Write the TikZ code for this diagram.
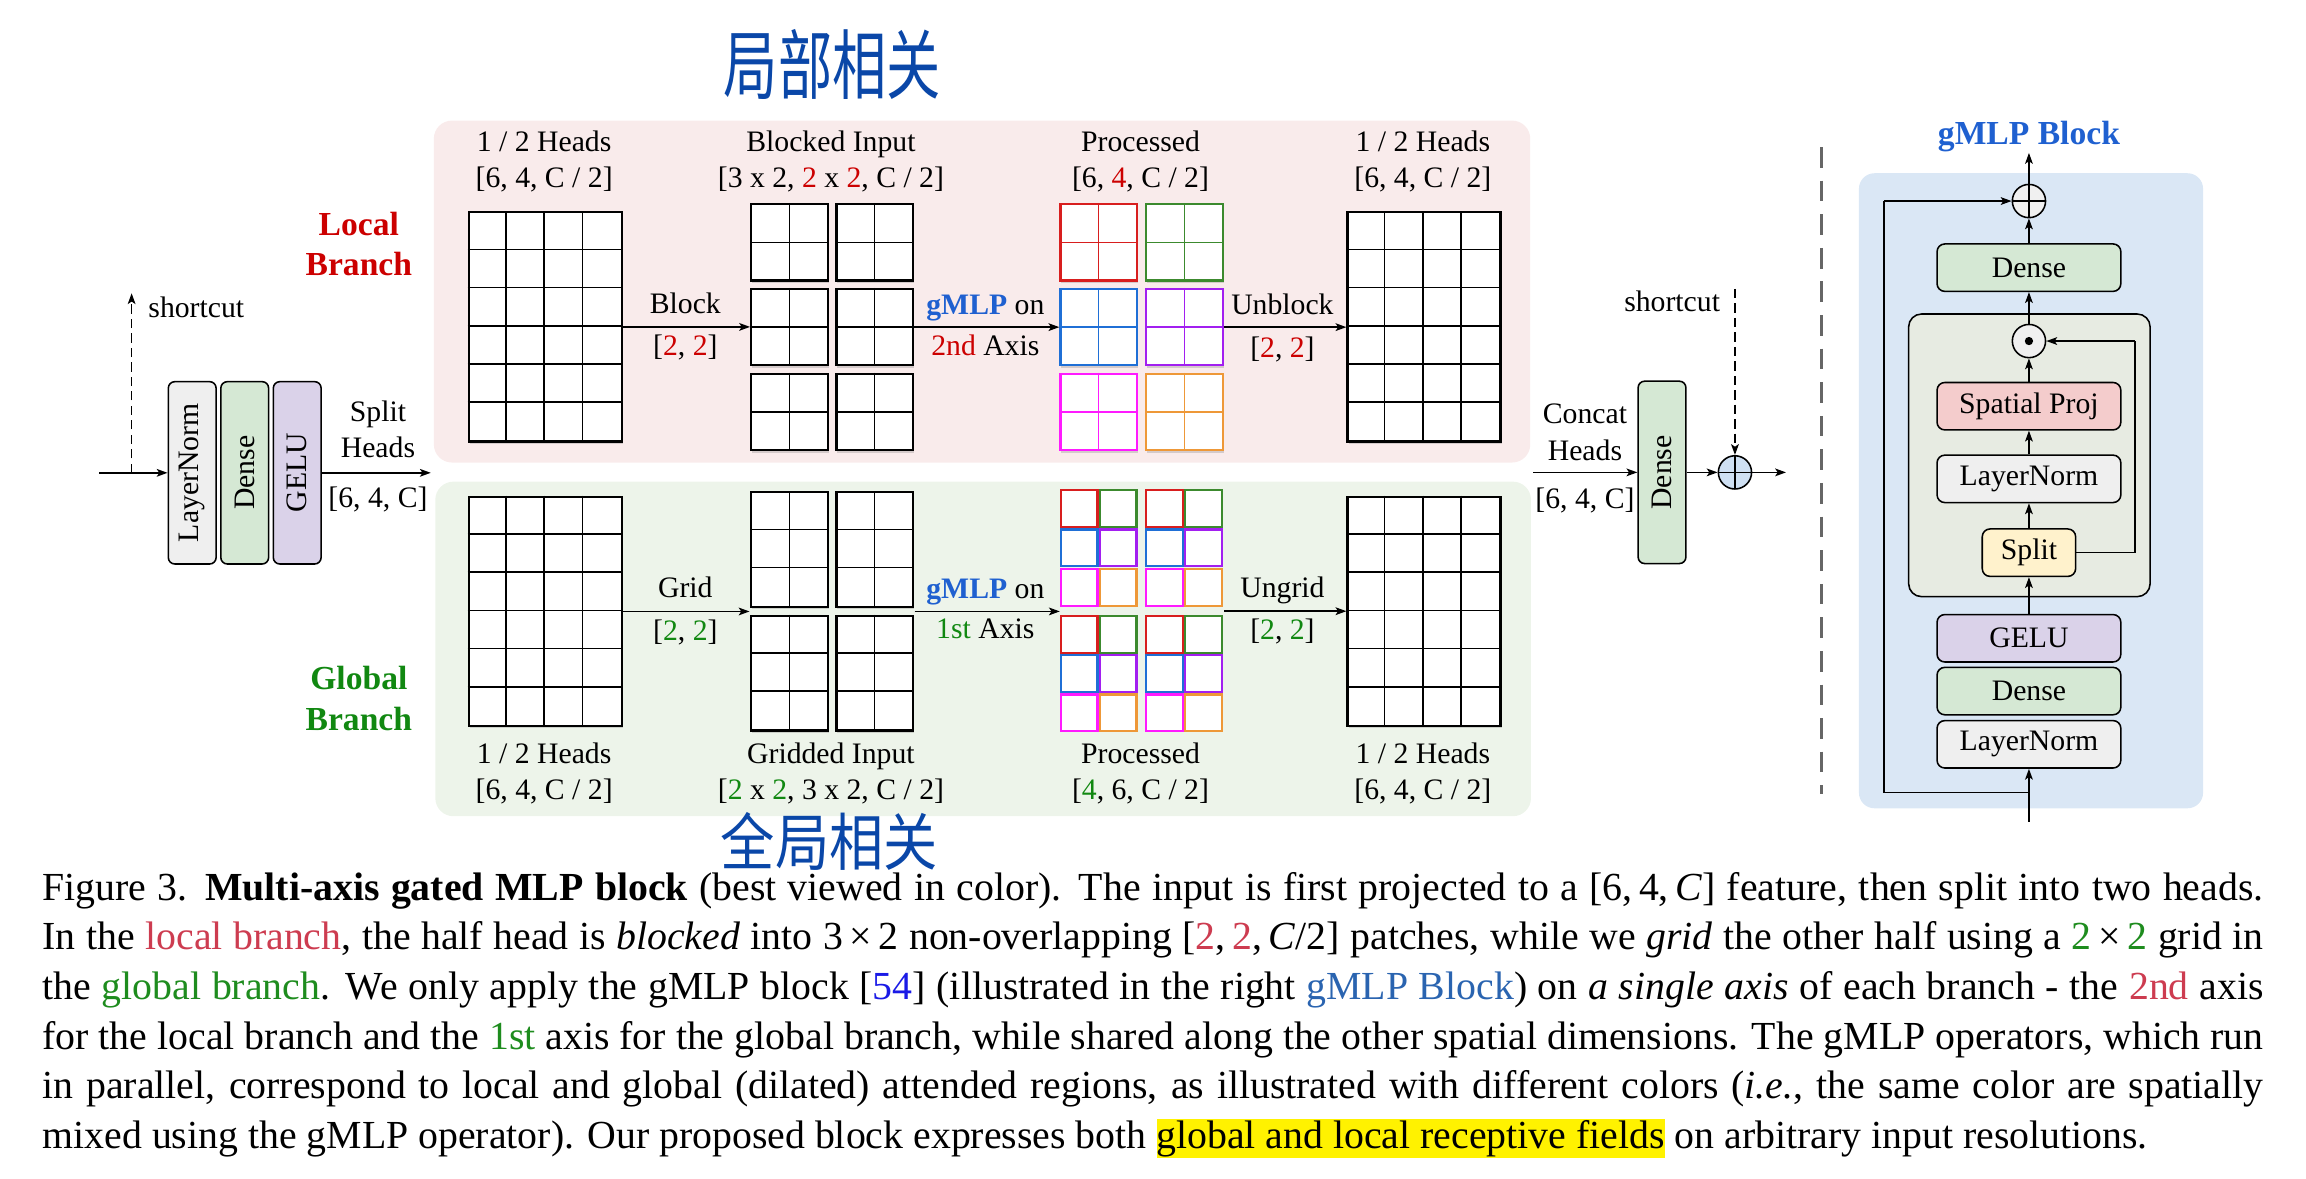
\documentclass[tikz,border=0pt]{standalone}
\usepackage{fontspec}
\setmainfont{Liberation Serif}
\newfontfamily\cjkfont{Noto Sans CJK SC}
\usetikzlibrary{arrows.meta,fit,shadows,calc}
\definecolor{pinkpanel}{HTML}{F9EBEB}
\definecolor{greenpanel}{HTML}{EDF4EA}
\definecolor{bluepanel}{HTML}{DAE7F5}
\definecolor{innerpanel}{HTML}{E7EBE2}
\definecolor{fdense}{HTML}{D5E8D4}
\definecolor{fln}{HTML}{EFEFEF}
\definecolor{fgelu}{HTML}{DAD2E9}
\definecolor{fsp}{HTML}{F4CCCC}
\definecolor{fsplit}{HTML}{FFF2CC}
\definecolor{fplus}{HTML}{CFE0F3}
\definecolor{fcirc}{HTML}{F0F0F0}
\definecolor{cR}{HTML}{D81E1E}
\definecolor{cG}{HTML}{3C8A2E}
\definecolor{cB}{HTML}{1F6FD6}
\definecolor{cP}{HTML}{A21FF0}
\definecolor{cM}{HTML}{FF1AFF}
\definecolor{cO}{HTML}{EE9838}
\definecolor{tRed}{HTML}{CC0000}
\definecolor{tGreen}{HTML}{118811}
\definecolor{tBlue}{HTML}{1F60D0}
\definecolor{hand}{HTML}{0A47A8}
\definecolor{capred}{HTML}{CD3C50}
\definecolor{capgreen}{HTML}{1E8C1E}
\definecolor{capblue}{HTML}{1A1AE6}
\definecolor{capblueb}{HTML}{2A64B0}
\definecolor{sepgray}{HTML}{666666}

\newcommand\bigGrid[3]{%
  \node[gridn, anchor=north west] (#1) at (#2,#3) {};
  \foreach \k in {1,2,3} \draw[cellln] ($(#1.north west)+(\k*26,0)$) -- ($(#1.south west)+(\k*26,0)$);
  \foreach \k in {1,...,5} \draw[cellln] ($(#1.north west)+(0,\k*26)$) -- ($(#1.north east)+(0,\k*26)$);
}
\newcommand\blkAA[4]{%
  \node[blka, draw=#4, anchor=north west] (#1) at (#2,#3) {};
  \draw[#4, cellln] (#1.north) -- (#1.south) (#1.west) -- (#1.east);
}
\newcommand\blkBB[3]{%
  \node[blkb, anchor=north west] (#1) at (#2,#3) {};
  \draw[cellln] (#1.north) -- (#1.south)
    ($(#1.north west)+(0,26)$) -- ($(#1.north east)+(0,26)$)
    ($(#1.north west)+(0,52)$) -- ($(#1.north east)+(0,52)$);
}
\newcommand\pcell[3]{\draw[#3, line width=0.85pt, fill=white] (#1+0.8,#2+0.8) rectangle ++(24.9,25.1);}

\begin{document}
\begin{tikzpicture}[x=0.02cm,y=-0.02cm,
  lbl/.style={font=\fontsize{11.5}{13}\selectfont, inner sep=0, anchor=base},
  ttl/.style={font=\fontsize{13}{15}\selectfont\bfseries, inner sep=0, anchor=base},
  captxt/.style={font=\fontsize{15.4}{17}\selectfont, inner sep=0, anchor=base west},
  arr/.style={-{Stealth[length=4.2pt,width=3pt,inset=1pt]}, line width=0.55pt},
  dsh/.style={dash pattern=on 3.6pt off 2pt},
  shd/.style={drop shadow={shadow xshift=0.4pt, shadow yshift=-0.9pt, opacity=0.3}},
  gridn/.style={draw, line width=0.9pt, fill=white, inner sep=0, minimum width=2.08cm, minimum height=3.12cm, shd},
  blka/.style={line width=0.85pt, fill=white, inner sep=0, minimum width=1.04cm, minimum height=1.04cm, shd},
  blkb/.style={draw, line width=0.85pt, fill=white, inner sep=0, minimum width=1.04cm, minimum height=1.56cm, shd},
  cellln/.style={line width=0.6pt},
  vbox/.style={draw, rounded corners=2.5pt, line width=0.6pt, inner sep=0, minimum width=2.48cm, minimum height=0.65cm, rotate=90, font=\fontsize{11.5}{13}\selectfont},
  hbox/.style={draw, rounded corners=3pt, line width=0.6pt, inner sep=0, minimum width=2.5cm, minimum height=0.645cm, font=\fontsize{11.5}{13}\selectfont},
  opl/.style={circle, draw, line width=0.6pt, inner sep=0, minimum size=0.452cm, path picture={\draw[black, line width=0.6pt] (path picture bounding box.north) -- (path picture bounding box.south) (path picture bounding box.west) -- (path picture bounding box.east);}},
  odt/.style={circle, draw, line width=0.6pt, inner sep=0, minimum size=0.452cm, fill=fcirc, path picture={\fill[black] (path picture bounding box.center) circle (1.6pt);}}
]
\useasboundingbox (0,0) rectangle (1568,801);

% ---------- panels ----------
\fill[pinkpanel, rounded corners=7pt] (295,82) rectangle (1040.5,314.5);
\fill[greenpanel, rounded corners=7pt] (296,327.5) rectangle (1041,555);
\fill[bluepanel, rounded corners=6pt] (1264,117.8) rectangle (1498,549.6);
\draw[fill=innerpanel, rounded corners=5pt, line width=0.6pt] (1297.8,213.5) rectangle (1462,405.7);

% ---------- handwriting ----------
\node[inner sep=0, text=hand] (hw1) at (566,44) {\scalebox{1}[1.4]{\cjkfont\fontsize{21}{21}\selectfont 局部相关}};
\node[inner sep=0, text=hand] (hw2) at (564,572) {\scalebox{1}[1.15]{\cjkfont\fontsize{21}{21}\selectfont 全局相关}};

% ---------- left module ----------
\node[vbox, fill=fln] (ln1) at (130.7,321.5) {LayerNorm};
\node[vbox, fill=fdense] (de1) at (166.4,321.5) {Dense};
\node[vbox, fill=fgelu] (ge1) at (202.1,321.5) {GELU};
\coordinate (in0) at (67.5,321.5);
\coordinate (scb) at (89.5,321.5);
\coordinate (sct) at (89.5,199.4);
\coordinate (spl) at (292.9,321.5);
\draw[arr] (in0) -- (ln1);
\draw[arr, dsh] (scb) -- (sct);
\draw[arr] (ge1) -- (spl);
\node[lbl] (tsc1) at (133.5,215.8) {shortcut};
\node[lbl] (tsp1) at (257,286.7) {Split};
\node[lbl] (tsp2) at (257,311) {Heads};
\node[lbl] (tsp3) at (257,345) {[6, 4, C]};

% ---------- branch titles ----------
\node[ttl, text=tRed] (lb1) at (244,159.8) {Local};
\node[ttl, text=tRed] (lb2) at (244,187) {Branch};
\node[ttl, text=tGreen] (gb1) at (244,469) {Global};
\node[ttl, text=tGreen] (gb2) at (244,496.8) {Branch};

% ---------- local branch ----------
\bigGrid{LG}{318}{143.5}
\blkAA{B11}{510}{138}{black}
\blkAA{B12}{568}{138}{black}
\blkAA{B21}{510}{195.7}{black}
\blkAA{B22}{568}{195.7}{black}
\blkAA{B31}{510}{253.4}{black}
\blkAA{B32}{568}{253.4}{black}
\blkAA{P11}{720.3}{138}{cR}
\blkAA{P12}{778.6}{138}{cG}
\blkAA{P21}{720.3}{195.7}{cB}
\blkAA{P22}{778.6}{195.7}{cP}
\blkAA{P31}{720.3}{253.4}{cM}
\blkAA{P32}{778.6}{253.4}{cO}
\bigGrid{RG}{915.5}{143.5}

\draw[arr] (LG.east) -- (LG.east -| B21.west);
\draw[arr] (B22.east) -- (B22.east -| P21.west);
\draw[arr] (P22.east) -- (P22.east -| RG.west);

\node[lbl] (l1a) at (370,103) {1 / 2 Heads};
\node[lbl] (l1b) at (370,127.3) {[6, 4, C / 2]};
\node[lbl] (l2a) at (565,103) {Blocked Input};
\node[lbl] (l2b) at (565,127.3) {[3 x 2, \textcolor{tRed}{2} x \textcolor{tRed}{2}, C / 2]};
\node[lbl] (l3a) at (775.5,103) {Processed};
\node[lbl] (l3b) at (775.5,127.3) {[6, \textcolor{tRed}{4}, C / 2]};
\node[lbl] (l4a) at (967.5,103) {1 / 2 Heads};
\node[lbl] (l4b) at (967.5,127.3) {[6, 4, C / 2]};
\node[lbl] (la1) at (466,213) {Block};
\node[lbl] (la2) at (466,241.4) {[\textcolor{tRed}{2}, \textcolor{tRed}{2}]};
\node[lbl] (la3) at (670,213.7) {\textcolor{tBlue}{\textbf{gMLP}} on};
\node[lbl] (la4) at (670,242) {\textcolor{tRed}{2nd} Axis};
\node[lbl] (la5) at (872,214) {Unblock};
\node[lbl] (la6) at (872,242.8) {[\textcolor{tRed}{2}, \textcolor{tRed}{2}]};

% ---------- global branch ----------
\bigGrid{GLG}{318}{337}
\blkBB{gb11}{510}{334}
\blkBB{gb12}{568}{334}
\blkBB{gb21}{510}{418}
\blkBB{gb22}{568}{418}
\node[fit=(gb11)(gb22), inner sep=0] (GB) {};
\foreach \bx in {720.6,778.6}{
  \foreach \by in {332.5,418}{
    \pcell{\bx}{\by}{cR}
    \pcell{\bx+26.5}{\by}{cG}
    \pcell{\bx}{\by+26.7}{cB}
    \pcell{\bx+26.5}{\by+26.7}{cP}
    \pcell{\bx}{\by+53.4}{cM}
    \pcell{\bx+26.5}{\by+53.4}{cO}
  }
}
\node[inner sep=0, minimum width=2.22cm, minimum height=3.31cm, anchor=north west] (PG) at (720.6,332.5) {};
\bigGrid{GRG}{915.5}{337}

\draw[arr] (GLG.east) -- (GLG.east -| GB.west);
\draw[arr] (GB.east) -- (GB.east -| PG.west);
\draw[arr] (PG.east) -- (PG.east -| GRG.west);

\node[lbl] (g1a) at (370,519) {1 / 2 Heads};
\node[lbl] (g1b) at (370,543.3) {[6, 4, C / 2]};
\node[lbl] (g2a) at (565,519) {Gridded Input};
\node[lbl] (g2b) at (565,543.3) {[\textcolor{tGreen}{2} x \textcolor{tGreen}{2}, 3 x 2, C / 2]};
\node[lbl] (g3a) at (775.5,519) {Processed};
\node[lbl] (g3b) at (775.5,543.3) {[\textcolor{tGreen}{4}, 6, C / 2]};
\node[lbl] (g4a) at (967.5,519) {1 / 2 Heads};
\node[lbl] (g4b) at (967.5,543.3) {[6, 4, C / 2]};
\node[lbl] (ga1) at (466,406) {Grid};
\node[lbl] (ga2) at (466,435.6) {[\textcolor{tGreen}{2}, \textcolor{tGreen}{2}]};
\node[lbl] (ga3) at (670,406.8) {\textcolor{tBlue}{\textbf{gMLP}} on};
\node[lbl] (ga4) at (670,434) {\textcolor{tGreen}{1st} Axis};
\node[lbl] (ga5) at (872,406) {Ungrid};
\node[lbl] (ga6) at (872,435) {[\textcolor{tGreen}{2}, \textcolor{tGreen}{2}]};

% ---------- concat ----------
\node[vbox, fill=fdense] (de2) at (1130.1,321.2) {Dense};
\node[opl, fill=fplus] (op1) at (1179.7,321.2) {};
\coordinate (cin) at (1042.5,321.2);
\coordinate (cout) at (1214.4,321.2);
\coordinate (sc2) at (1179.7,196.5);
\draw[arr] (cin) -- (de2);
\draw[arr] (de2) -- (op1);
\draw[arr] (op1) -- (cout);
\draw[arr, dsh] (sc2) -- (op1);
\node[lbl] (tsc2) at (1137,211.5) {shortcut};
\node[lbl] (tc1) at (1077.7,288.3) {Concat};
\node[lbl] (tc2) at (1077.7,312.8) {Heads};
\node[lbl] (tc3) at (1077.7,345.6) {[6, 4, C]};

% separator
\coordinate (sepa) at (1238.6,100);
\coordinate (sepb) at (1238.6,540);
\draw[sepgray, line width=1pt, dash pattern=on 8pt off 5pt] (sepa) -- (sepb);

% ---------- gMLP block ----------
\node[ttl, text=tBlue] (gtitle) at (1379.6,98) {gMLP Block};
\node[opl, fill=fcirc] (op2) at (1379.6,136.7) {};
\node[hbox, fill=fdense] (d3) at (1379.6,182) {Dense};
\node[odt] (od) at (1379.6,231.9) {};
\node[hbox, fill=fsp] (sp) at (1379.6,276.2) {Spatial Proj};
\node[hbox, fill=fln] (ln2) at (1379.6,325.6) {LayerNorm};
\node[hbox, fill=fsplit, minimum width=1.27cm] (spt) at (1379.6,375.8) {Split};
\node[hbox, fill=fgelu] (ge2) at (1379.6,434) {GELU};
\node[hbox, fill=fdense] (d4) at (1379.6,469.9) {Dense};
\node[hbox, fill=fln] (ln3) at (1379.6,506.1) {LayerNorm};
\coordinate (bin) at (1379.6,558.7);
\coordinate (rj) at (1379.6,538.7);
\coordinate (rl) at (1281,538.7);
\coordinate (rt) at (1281,136.7);
\coordinate (tout) at (1379.6,104);
\coordinate (fb1) at (1451.7,375.8);
\coordinate (fb2) at (1451.7,231.9);
\draw[arr] (bin) -- (ln3);
\draw[line width=0.55pt] (rj) -- (rl) -- (rt);
\draw[arr] (rt) -- (op2);
\draw[arr] (ge2) -- (spt);
\draw[arr] (spt) -- (ln2);
\draw[arr] (ln2) -- (sp);
\draw[arr] (sp) -- (od);
\draw[arr] (od) -- (d3);
\draw[arr] (d3) -- (op2);
\draw[arr] (op2) -- (tout);
\draw[line width=0.55pt] (spt.east) -- (fb1) -- (fb2);
\draw[arr] (fb2) -- (od);

% ---------- caption ----------
\node[captxt] (cap1) at (28.6,612) {\makebox[30.21cm][s]{Figure 3. \textbf{Multi-axis gated MLP block} (best viewed in color). The input is first projected to a [6,\,4,\,\textit{C\/}] feature, then split into two heads.}};
\node[captxt] (cap2) at (28.6,645.8) {\makebox[30.21cm][s]{In the \textcolor{capred}{local branch}, the half head is \textit{blocked} into 3\,×\,2 non-overlapping [\textcolor{capred}{2},\,\textcolor{capred}{2},\,\textit{C}/2] patches, while we \textit{grid} the other half using a \textcolor{capgreen}{2}\,×\,\textcolor{capgreen}{2} grid in}};
\node[captxt] (cap3) at (28.6,679.6) {\makebox[30.21cm][s]{the \textcolor{capgreen}{global branch}. We only apply the gMLP block [\textcolor{capblue}{54}] (illustrated in the right \textcolor{capblueb}{gMLP Block}) on \textit{a single axis} of each branch - the \textcolor{capred}{2nd} axis}};
\node[captxt] (cap4) at (28.6,713.4) {\makebox[30.21cm][s]{for the local branch and the \textcolor{capgreen}{1st} axis for the global branch, while shared along the other spatial dimensions. The gMLP operators, which run}};
\node[captxt] (cap5) at (28.6,747.2) {\makebox[30.21cm][s]{in parallel, correspond to local and global (dilated) attended regions, as illustrated with different colors (\textit{i.e.}, the same color are spatially}};
\node[captxt] (cap6) at (28.6,781) {mixed using the gMLP operator). Our proposed block expresses both {\setlength\fboxsep{0pt}\colorbox{yellow}{\rule[-3.8pt]{0pt}{15.2pt}global and local receptive fields}} on arbitrary input resolutions.};
\end{tikzpicture}
\end{document}
